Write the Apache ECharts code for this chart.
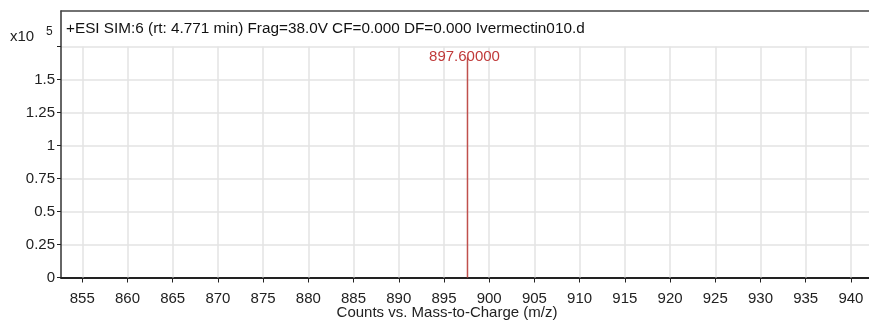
<!DOCTYPE html>
<html>
<head>
<meta charset="utf-8">
<script src="https://cdn.jsdelivr.net/npm/echarts@6/dist/echarts.min.js"></script>
<style>
  html, body { margin: 0; padding: 0; background: #ffffff; }
  #chart { width: 869px; height: 322px; }
</style>
</head>
<body>
<div id="chart"></div>
<script>
// Spectrum header and axis text
const titleText = '+ESI SIM:6 (rt: 4.771 min) Frag=38.0V CF=0.000 DF=0.000 Ivermectin010.d';
const xAxisName = 'Counts vs. Mass-to-Charge (m/z)';

// Axis ranges and tick positions (m/z, counts x10^5)
const xRange = [852.65, 942.0];
const yRange = [0, 2.02];
const xTicks = [855, 860, 865, 870, 875, 880, 885, 890, 895, 900, 905, 910, 915, 920, 925, 930, 935, 940];
const yTicks = [0, 0.25, 0.5, 0.75, 1, 1.25, 1.5, 1.75];
const yTickLabels = [0, 0.25, 0.5, 0.75, 1, 1.25, 1.5];

// Detected peak (m/z, abundance x10^5)
const peakMz = [897.6];
const peakAbundance = [1.67];
const peakLabels = ['897.60000'];

const font = '"Liberation Sans", Arial, sans-serif';
const gridColor = '#e3e3e3';
const peakColor = '#c0504d';
const labelColor = '#c03a3a';

const chart = echarts.init(document.getElementById('chart'), null, { renderer: 'canvas' });

// vertical grid segments stop at the top y tick
const vGrid = xTicks.map(v => [{ coord: [v, yTicks[0]] }, { coord: [v, yTicks[yTicks.length - 1]] }]);

const peakSeries = peakMz.map((mz, i) => ({
  type: 'line',
  xAxisIndex: 0,
  yAxisIndex: 0,
  data: [
    [mz, 0],
    {
      value: [mz, peakAbundance[i]],
      label: {
        show: true,
        formatter: peakLabels[i],
        position: 'top',
        distance: -7,
        offset: [-3, 0],
        color: labelColor,
        fontSize: 15,
        fontFamily: font
      }
    }
  ],
  symbol: 'circle',
  symbolSize: 0,
  showSymbol: true,
  lineStyle: { color: peakColor, width: 1.5 },
  itemStyle: { color: peakColor },
  animation: false,
  z: 5
}));

const option = {
  animation: false,
  backgroundColor: '#ffffff',
  grid: { left: 61, top: 11, right: 0, bottom: 44.5, containLabel: false },
  xAxis: [
    {
      type: 'value',
      min: xRange[0],
      max: xRange[1],
      axisLine: { show: true, onZero: false, lineStyle: { color: '#222', width: 2 } },
      axisTick: { show: true, length: 5, customValues: xTicks, lineStyle: { color: '#222', width: 1 } },
      axisLabel: { customValues: xTicks, color: '#222', fontSize: 15, fontFamily: font, margin: 14 },
      splitLine: { show: false }
    },
    {
      type: 'value',
      position: 'top',
      min: xRange[0],
      max: xRange[1],
      axisLine: { show: true, onZero: false, lineStyle: { color: '#444', width: 1.5 } },
      axisTick: { show: false },
      axisLabel: { show: false },
      splitLine: { show: false }
    }
  ],
  yAxis: {
    type: 'value',
    min: yRange[0],
    max: yRange[1],
    axisLine: { show: true, lineStyle: { color: '#333', width: 1.5 } },
    axisTick: { show: true, length: 4, customValues: yTicks, lineStyle: { color: '#222', width: 1 } },
    axisLabel: {
      customValues: yTickLabels,
      color: '#222',
      fontSize: 15,
      fontFamily: font,
      margin: 6,
      formatter: v => String(v)
    },
    splitLine: { show: true, lineStyle: { color: gridColor, width: 1.5 } }
  },
  series: [
    {
      type: 'line',
      data: [],
      markLine: {
        silent: true,
        symbol: ['none', 'none'],
        label: { show: false },
        lineStyle: { color: gridColor, width: 1.5, type: 'solid' },
        data: vGrid,
        animation: false
      },
      z: 1
    },
    ...peakSeries
  ],
  graphic: [
    {
      type: 'text',
      x: 66,
      y: 29,
      style: { text: titleText, fill: '#111', font: '15.3px ' + font, verticalAlign: 'middle' }
    },
    {
      type: 'text',
      x: 10,
      y: 37,
      style: { text: 'x10', fill: '#222', font: '15px ' + font, verticalAlign: 'middle' }
    },
    {
      type: 'text',
      x: 46,
      y: 32,
      style: { text: '5', fill: '#222', font: '12px ' + font, verticalAlign: 'middle' }
    },
    {
      type: 'text',
      x: 447,
      y: 313,
      style: { text: xAxisName, fill: '#222', font: '15px ' + font, align: 'center', verticalAlign: 'middle' }
    }
  ]
};

chart.setOption(option);
</script>
</body>
</html>
